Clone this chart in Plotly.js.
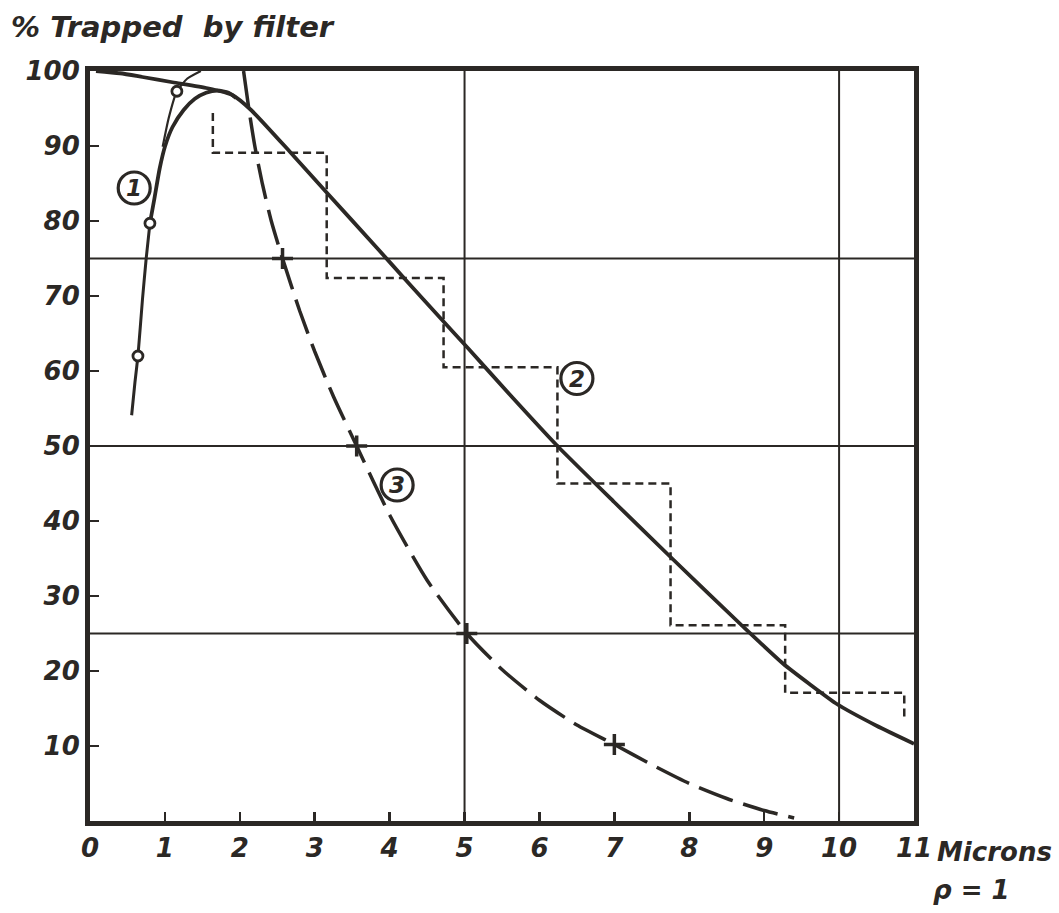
<!DOCTYPE html>
<html>
<head>
<meta charset="utf-8">
<script src="https://cdn.plot.ly/plotly-3.0.1.min.js"></script>
<style>html,body{margin:0;padding:0;background:#fff;}#chart{width:1059px;height:913px;}</style>
</head>
<body>
<div id="chart"></div>
<script>
// ---- data ----
const xTicks = [0,1,2,3,4,5,6,7,8,9,10,11];
const yTicks = [10,20,30,40,50,60,70,80,90,100];

// curve 1 : lower part with measured points (circles)
const c1LowX = [0.556,0.6,0.64,0.7,0.75,0.8];
const c1LowY = [54.1,58.5,62,69.5,75,79.7];
// curve 1 : thin upper branch through the top circle
const c1UpX = [0.97,1.05,1.16,1.3,1.48];
const c1UpY = [89.9,93.7,97.3,99,100];
// curve 1 : smooth thick branch rising to the peak
const c1FitX = [0.8,0.86,0.93,1.0,1.1,1.25,1.4,1.55,1.7,1.85,1.95];
const c1FitY = [79.7,83.0,87.0,89.9,92.5,94.8,96.3,97.1,97.4,97.1,96.4];
// curve 1 measured points
const c1PtsX = [0.64,0.8,1.16];
const c1PtsY = [62,79.7,97.3];

// curve 2 (solid, thick)
const c2X = [0.08,0.4,0.7,1.1,1.57,1.9,2.15,2.68,3.15,3.85,4.2,4.71,5.05,5.6,6.24,7.0,7.75,8.72,9.25,9.6,9.97,10.5,11];
const c2Y = [100,99.7,99.2,98.5,97.7,96.8,94.8,89.1,83.9,76.2,72.3,66.7,63.0,56.9,50,42.5,35.2,25.9,21.0,18.3,15.6,12.7,10.3];

// curve 2 histogram (dashed steps)
const stepEdges = [1.64,3.16,4.72,6.24,7.75,9.28,10.87];
const stepVals  = [89.1,72.4,60.5,45,26.1,17.1];
const stepStart = 94.4;
const stepEnd   = 13.5;

// curve 3 (long dashes) and its measured points (+)
const c3X = [2.05,2.12,2.2,2.3,2.42,2.57,2.8,3.0,3.25,3.56,4.0,4.5,5.03,5.5,6.0,6.5,7.0,7.5,8.0,8.5,9.0,9.4];
const c3Y = [100,95,90,85,80,75,68,62.6,56.6,50,40.8,32.1,25,20.2,16.1,12.8,10.2,7.5,5.0,3.0,1.4,0.4];
const c3PtsX = [2.57,3.56,5.03,7.0];
const c3PtsY = [75,50,25,10.2];

// circled curve labels
const labelText = ['1','2','3'];
const labelX = [0.59,6.50,4.10];
const labelY = [84.4,59.0,44.8];

const gridX = [5,10];
const gridY = [25,50,75];

// ---- build ----
const ink = '#2b2825';
const fam = 'DejaVu Sans, Liberation Sans, sans-serif';
const tf = (s) => ({family:fam, size:s, color:ink, style:'italic', weight:'bold'});

// step path
const sx = [stepEdges[0]], sy = [stepStart];
for (let i = 0; i < stepVals.length; i++) {
  sx.push(stepEdges[i]); sy.push(stepVals[i]);
  sx.push(stepEdges[i+1]); sy.push(stepVals[i]);
}
sx.push(stepEdges[stepEdges.length-1]); sy.push(stepEnd);

const traces = [
  {x: sx, y: sy, mode:'lines', line:{color:ink, width:2.5, dash:'8px,5px'}, hoverinfo:'skip'},
  {x: c3X, y: c3Y, mode:'lines', line:{color:ink, width:3.5, dash:'36px,11px', shape:'spline', smoothing:0.6}, hoverinfo:'skip'},
  {x: c3PtsX, y: c3PtsY, mode:'markers', marker:{symbol:'cross-thin', size:15, line:{color:ink, width:3.5}}, hoverinfo:'skip'},
  {x: c2X, y: c2Y, mode:'lines', line:{color:ink, width:3.8, shape:'spline', smoothing:0.6}, hoverinfo:'skip'},
  {x: c1FitX, y: c1FitY, mode:'lines', line:{color:ink, width:3.8, shape:'spline', smoothing:0.6}, hoverinfo:'skip'},
  {x: c1LowX, y: c1LowY, mode:'lines', line:{color:ink, width:3, shape:'spline', smoothing:0.4}, hoverinfo:'skip'},
  {x: c1UpX, y: c1UpY, mode:'lines', line:{color:ink, width:2.2, shape:'spline', smoothing:0.5}, hoverinfo:'skip'},
  {x: c1PtsX, y: c1PtsY, mode:'markers', marker:{symbol:'circle', size:10, color:'#ffffff', line:{color:ink, width:2.8}}, hoverinfo:'skip'}
];

const shapes = [];
gridX.forEach(v => shapes.push({type:'line', xref:'x', yref:'y', x0:v, x1:v, y0:0, y1:100, line:{color:ink, width:2}, layer:'below'}));
gridY.forEach(v => shapes.push({type:'line', xref:'x', yref:'y', x0:0, x1:11, y0:v, y1:v, line:{color:ink, width:2}, layer:'below'}));
labelX.forEach((v,i) => shapes.push({type:'circle', xref:'x', yref:'y', xsizemode:'pixel', ysizemode:'pixel',
  xanchor:v, yanchor:labelY[i], x0:-16, x1:16, y0:-16, y1:16, line:{color:ink, width:3.2}, fillcolor:'rgba(255,255,255,0)'}));

const annotations = labelText.map((t,i) => ({x:labelX[i], y:labelY[i], xref:'x', yref:'y', text:t, showarrow:false,
  font:tf(23), xanchor:'center', yanchor:'middle'}));

annotations.push({xref:'paper', yref:'paper', x:-0.098, y:1.058, xanchor:'left', yanchor:'middle', showarrow:false,
  text:'% Trapped\u00a0 by filter', font:tf(29)});
annotations.push({xref:'paper', yref:'paper', x:1.026, y:-0.041, xanchor:'left', yanchor:'middle', showarrow:false,
  text:'Microns', font:tf(26)});
annotations.push({xref:'paper', yref:'paper', x:1.07, y:-0.092, xanchor:'center', yanchor:'middle', showarrow:false,
  text:'ρ = 1', font:tf(26)});

const layout = {
  width:1059, height:913,
  margin:{l:90, r:145, t:71, b:92},
  paper_bgcolor:'#ffffff', plot_bgcolor:'#ffffff',
  showlegend:false,
  xaxis:{range:[0,11], tickvals:xTicks, ticktext:xTicks.map(String), ticks:'inside', ticklen:9, tickwidth:2.5, tickcolor:ink,
    showgrid:false, zeroline:false, showline:true, linewidth:5, linecolor:ink, mirror:true,
    tickfont:tf(26)},
  yaxis:{range:[0,100], tickvals:yTicks, ticktext:yTicks.map(String), ticks:'inside', ticklen:9, tickwidth:2.5, tickcolor:ink,
    showgrid:false, zeroline:false, showline:true, linewidth:5, linecolor:ink, mirror:true,
    tickfont:tf(26)},
  shapes:shapes,
  annotations:annotations
};

Plotly.newPlot('chart', traces, layout, {staticPlot:true, displayModeBar:false});
</script>
</body>
</html>
